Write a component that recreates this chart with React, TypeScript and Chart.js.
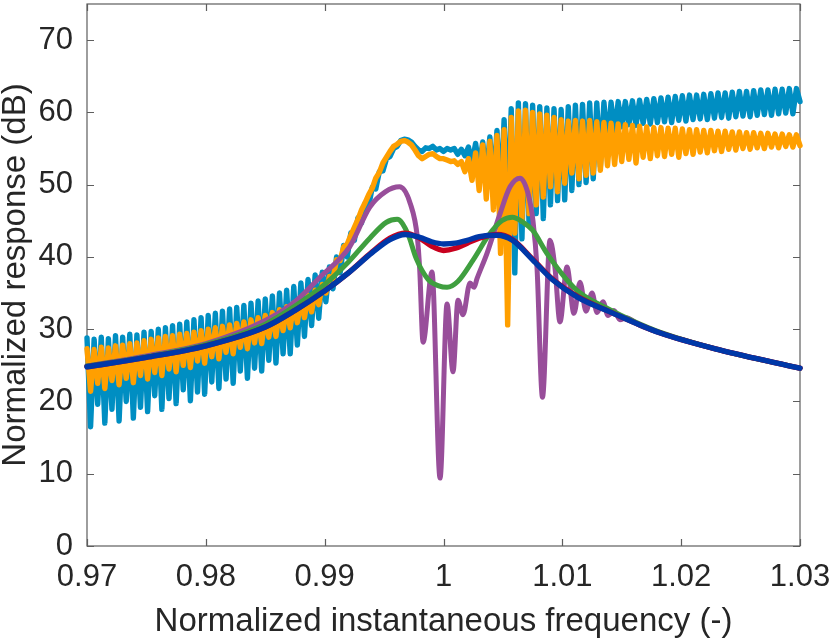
import React, { useEffect, useRef } from "react";
import { Chart, registerables } from "chart.js";

Chart.register(...registerables);

// ---- axis ticks ----
const xTicks = [0.97, 0.98, 0.99, 1, 1.01, 1.02, 1.03];
const yTicks = [0, 10, 20, 30, 40, 50, 60, 70];

// ---- swept measurements (sampled on a uniform frequency grid) ----
const sweepStart = 0.97;
const sweepStep = 0.0003;

const sweepCyan = [
  28.8, 16.5, 28.6, 19.6, 28.9, 17.0, 28.7, 18.9, 29.1, 17.3,
  28.9, 20.0, 29.3, 17.7, 29.2, 19.2, 29.6, 18.6, 29.7, 20.8,
  30.0, 18.9, 30.2, 20.4, 30.5, 19.7, 30.7, 21.6, 31.0, 20.1,
  31.3, 21.3, 31.6, 21.0, 31.9, 22.7, 32.2, 21.8, 32.5, 23.1,
  32.8, 22.5, 33.0, 24.2, 33.3, 23.2, 33.6, 24.6, 33.9, 24.2,
  34.2, 25.7, 34.6, 25.3, 35.0, 26.6, 35.4, 26.6, 35.9, 27.8,
  36.4, 29.0, 36.9, 30.5, 37.5, 31.5, 37.9, 33.8, 38.6, 35.6,
  40.0, 37.8, 41.6, 40.0, 43.3, 42.3, 45.4, 44.7, 47.4, 47.0,
  49.6, 49.4, 51.8, 51.9, 53.6, 53.9, 55.0, 55.3, 56.1, 56.3,
  56.2, 55.9, 55.3, 54.8, 54.6, 55.1, 55.0, 55.3, 54.8, 55.0,
  54.6, 55.0, 54.8, 55.0, 54.2, 54.9, 54.0, 55.2, 53.0, 55.7,
  52.4, 55.9, 51.0, 56.6, 49.7, 57.5, 47.5, 59.0, 45.5, 60.5,
  37.8, 61.3, 42.5, 61.2, 44.5, 61.0, 46.0, 60.8, 45.3, 60.6,
  47.2, 60.5, 47.8, 60.4, 47.9, 60.8, 49.2, 61.0, 50.0, 61.1,
  50.3, 61.3, 50.8, 61.3, 52.5, 61.4, 55.5, 61.4, 57.0, 61.5,
  58.0, 61.5, 58.3, 61.6, 58.2, 61.7, 58.5, 61.8, 58.4, 61.9,
  58.6, 62.0, 58.7, 62.1, 58.6, 62.2, 58.9, 62.3, 58.8, 62.4,
  59.0, 62.4, 59.1, 62.5, 59.0, 62.6, 59.2, 62.7, 59.3, 62.7,
  59.2, 62.8, 59.4, 62.9, 59.5, 62.9, 59.4, 63.0, 59.6, 63.1,
  59.7, 63.1, 59.6, 63.2, 59.8, 63.2, 59.9, 63.3, 59.8, 63.3,
  61.5,
];

const sweepOrange = [
  27.3, 21.4, 27.2, 22.5, 27.5, 21.8, 27.4, 22.9, 27.7, 22.3,
  27.8, 23.2, 28.0, 22.6, 28.1, 23.6, 28.4, 23.1, 28.6, 24.0,
  28.8, 23.6, 29.0, 24.5, 29.1, 24.1, 29.3, 25.0, 29.4, 24.7,
  29.6, 25.6, 29.8, 25.3, 30.0, 26.2, 30.2, 25.9, 30.4, 26.8,
  30.6, 26.6, 30.8, 27.5, 31.0, 27.3, 31.3, 28.1, 31.6, 28.0,
  31.9, 28.9, 32.3, 29.0, 32.7, 29.8, 33.1, 30.2, 33.6, 30.9,
  34.1, 31.6, 34.7, 32.4, 35.4, 33.4, 36.2, 35.0, 37.3, 37.0,
  39.6, 39.5, 41.4, 41.8, 43.0, 44.1, 45.2, 46.5, 47.5, 48.6,
  49.5, 50.9, 51.7, 53.0, 53.8, 54.6, 55.3, 55.6, 56.0, 56.1,
  55.9, 55.5, 54.8, 54.0, 53.6, 53.9, 54.2, 54.3, 53.9, 53.6,
  53.6, 53.4, 53.2, 53.3, 52.8, 53.2, 51.8, 53.6, 50.6, 54.4,
  49.2, 55.5, 48.0, 56.0, 46.5, 56.8, 40.5, 57.6, 30.6, 59.3,
  43.3, 60.2, 45.0, 60.3, 46.0, 60.0, 47.2, 59.8, 48.3, 59.6,
  49.7, 59.3, 49.0, 59.0, 50.2, 58.8, 51.6, 58.9, 50.8, 58.8,
  51.3, 58.9, 51.6, 58.7, 52.0, 58.6, 52.6, 58.5, 52.8, 58.4,
  53.2, 58.3, 53.5, 58.2, 53.0, 58.1, 53.8, 58.0, 53.6, 57.9,
  54.0, 57.9, 53.9, 57.8, 54.2, 57.8, 53.8, 57.7, 54.3, 57.6,
  54.2, 57.6, 54.5, 57.5, 54.4, 57.5, 54.7, 57.4, 54.6, 57.4,
  54.9, 57.3, 54.8, 57.3, 55.0, 57.2, 54.9, 57.2, 55.1, 57.1,
  55.0, 57.1, 55.2, 57.0, 55.1, 57.0, 55.3, 56.9, 55.2, 56.9,
  55.4,
];

// ---- smooth model curves ----
const navyX = [0.97, 0.975, 0.98, 0.985, 0.9875, 0.99, 0.992, 0.994, 0.9955, 0.9968, 0.998, 0.999, 1.0, 1.001, 1.002, 1.003, 1.0045, 1.0058, 1.0075, 1.0092, 1.0113, 1.014, 1.0182, 1.0233, 1.03];
const navyY = [24.8, 26.1, 27.7, 30.3, 32.6, 35.3, 37.8, 40.6, 42.4, 43.1, 42.7, 42.1, 41.8, 41.9, 42.3, 42.8, 43.0, 42.3, 39.6, 36.8, 34.4, 32.4, 29.5, 27.1, 24.6];

const redX = [0.97, 0.975, 0.98, 0.985, 0.9875, 0.99, 0.992, 0.994, 0.9955, 0.9968, 0.998, 0.999, 1.0, 1.001, 1.002, 1.003, 1.0045, 1.0058, 1.0075, 1.0092, 1.0113, 1.014, 1.0182, 1.0233, 1.03];
const redY = [24.8, 26.1, 27.7, 30.3, 32.6, 35.3, 37.8, 40.7, 42.6, 43.3, 42.6, 41.5, 40.9, 41.2, 41.9, 42.6, 43.1, 42.4, 39.7, 36.9, 34.5, 32.4, 29.5, 27.1, 24.6];

const greenX = [0.97, 0.975, 0.98, 0.985, 0.9875, 0.99, 0.992, 0.9938, 0.9952, 0.9961, 0.997, 0.9977, 0.9987, 0.9996, 1.0003, 1.0012, 1.0025, 1.0038, 1.0049, 1.0058, 1.0067, 1.0075, 1.0087, 1.0104, 1.0115, 1.014, 1.016, 1.0182, 1.0233, 1.03];
const greenY = [24.9, 26.2, 27.9, 30.7, 33.2, 36.2, 39.3, 42.6, 44.8, 45.2, 43.2, 39.8, 36.9, 36.0, 35.8, 36.6, 39.6, 43.0, 45.0, 45.5, 44.8, 43.7, 40.5, 36.8, 35.0, 32.7, 31.1, 29.6, 27.1, 24.6];

const purpleX = [0.97, 0.975, 0.98, 0.985, 0.9875, 0.9896, 0.9921, 0.9938, 0.9951, 0.9963, 0.9972, 0.9978, 0.998, 0.99828, 0.99903, 0.99971, 1.0003, 1.0008, 1.00122, 1.00164, 1.00223, 1.00257, 1.00282, 1.00366, 1.00476, 1.0056, 1.00644, 1.00711, 1.00753, 1.00787, 1.00833, 1.00896, 1.00938, 1.0098, 1.01039, 1.01098, 1.01149, 1.01199, 1.0125, 1.01292, 1.01342, 1.01384, 1.01435, 1.01485, 1.01536, 1.01654, 1.0182, 1.0233, 1.03];
const purpleY = [24.9, 26.3, 28.0, 31.2, 33.8, 37.2, 41.4, 46.9, 49.0, 49.7, 47.4, 42.7, 38.2, 28.2, 37.9, 9.4, 33.5, 24.1, 34.0, 32.0, 36.4, 35.8, 37.0, 40.5, 46.0, 49.7, 50.9, 48.8, 45.0, 38.5, 20.6, 42.3, 38.5, 31.0, 38.6, 32.2, 36.5, 32.5, 35.0, 32.3, 33.8, 31.9, 32.6, 31.3, 31.6, 30.5, 29.5, 27.1, 24.6];

const FONT = '"Liberation Sans", Arial, Helvetica, sans-serif';
const TEXT = "#262626";
const AXIS = "#5e5e5e";

const toPts = (xs: number[], ys: number[]) => ys.map((y, i) => ({ x: xs[i], y }));
const sweepPts = (ys: number[]) => ys.map((y, i) => ({ x: sweepStart + i * sweepStep, y }));

const framePlugin = {
  id: "frameTicks",
  beforeDatasetsDraw(chart: any) {
    const { ctx, chartArea, scales } = chart;
    const { left, right, top, bottom } = chartArea;
    const xs = scales.x;
    const ys = scales.y;
    ctx.save();
    ctx.strokeStyle = AXIS;
    ctx.lineWidth = 1.2;
    ctx.strokeRect(left, top, right - left, bottom - top);
    const tl = 7;
    ctx.beginPath();
    for (const v of xTicks) {
      const px = Math.round(xs.getPixelForValue(v)) + 0.5;
      ctx.moveTo(px, bottom);
      ctx.lineTo(px, bottom - tl);
      ctx.moveTo(px, top);
      ctx.lineTo(px, top + tl);
    }
    for (const v of yTicks) {
      const py = Math.round(ys.getPixelForValue(v)) + 0.5;
      ctx.moveTo(left, py);
      ctx.lineTo(left + tl, py);
      ctx.moveTo(right, py);
      ctx.lineTo(right - tl, py);
    }
    ctx.stroke();
    ctx.restore();
  },
};

function line(label: string, data: any[], color: string, width = 4.5, monotone = true) {
  return {
    label,
    data,
    borderColor: color,
    backgroundColor: color,
    borderWidth: width,
    pointRadius: 0,
    pointHoverRadius: 0,
    fill: false,
    tension: 0,
    cubicInterpolationMode: monotone ? "monotone" : "default",
    borderJoinStyle: "round",
    borderCapStyle: "round",
    clip: 3,
  };
}

export default function App() {
  const ref = useRef<HTMLCanvasElement | null>(null);

  useEffect(() => {
    if (!ref.current) return;
    Chart.defaults.font.family = FONT;
    const chart = new Chart(ref.current, {
      type: "line",
      data: {
        datasets: [
          line("Model (navy)", toPts(navyX, navyY), "#0038a8", 5.4),
          line("Model (red)", toPts(redX, redY), "#c8001e", 5.4),
          line("Model (green)", toPts(greenX, greenY), "#3f9f3f", 5.0),
          line("Model (purple)", toPts(purpleX, purpleY), "#984e9a", 5.0),
          line("Sweep (orange)", sweepPts(sweepOrange), "#ff9f00", 5.4, false),
          line("Sweep (cyan)", sweepPts(sweepCyan), "#008ec2", 5.4, false),
        ] as any,
      },
      options: {
        responsive: false,
        animation: false,
        devicePixelRatio: 1,
        layout: { padding: { top: 4, right: 30, left: 0, bottom: 0 } },
        plugins: {
          legend: { display: false },
          tooltip: { enabled: false },
        },
        scales: {
          x: {
            type: "linear",
            min: 0.97,
            max: 1.03,
            afterBuildTicks: (s: any) => {
              s.ticks = xTicks.map((v) => ({ value: v }));
            },
            afterFit: (s: any) => {
              s.height = 96;
              s.paddingLeft = 0;
              s.paddingRight = 0;
            },
            grid: { display: false, drawTicks: false },
            border: { display: false },
            ticks: {
              color: TEXT,
              font: { size: 31, family: FONT },
              padding: 13,
              maxRotation: 0,
              autoSkip: false,
              callback: (v: any) => String(parseFloat(Number(v).toFixed(2))),
            },
            title: {
              display: true,
              text: "Normalized instantaneous frequency (-)",
              color: TEXT,
              font: { size: 33, family: FONT },
              padding: { top: 0, bottom: 0 },
            },
          },
          y: {
            type: "linear",
            min: 0,
            max: 75,
            afterBuildTicks: (s: any) => {
              s.ticks = yTicks.map((v) => ({ value: v }));
            },
            afterFit: (s: any) => {
              s.width = 87;
              s.paddingTop = 0;
              s.paddingBottom = 0;
            },
            grid: { display: false, drawTicks: false },
            border: { display: false },
            ticks: {
              color: TEXT,
              font: { size: 31, family: FONT },
              padding: 14,
              autoSkip: false,
              callback: (v: any) => String(v),
            },
            title: {
              display: true,
              text: "Normalized response (dB)",
              color: TEXT,
              font: { size: 33, family: FONT, lineHeight: 0.94 },
              padding: { top: 0, bottom: 0 },
            },
          },
        },
      } as any,
      plugins: [framePlugin],
    });
    return () => chart.destroy();
  }, []);

  return (
    <div style={{ position: "fixed", left: 0, top: 0, width: 830, height: 642, background: "#fff" }}>
      <canvas ref={ref} width={830} height={642} style={{ display: "block", width: 830, height: 642 }} />
    </div>
  );
}
